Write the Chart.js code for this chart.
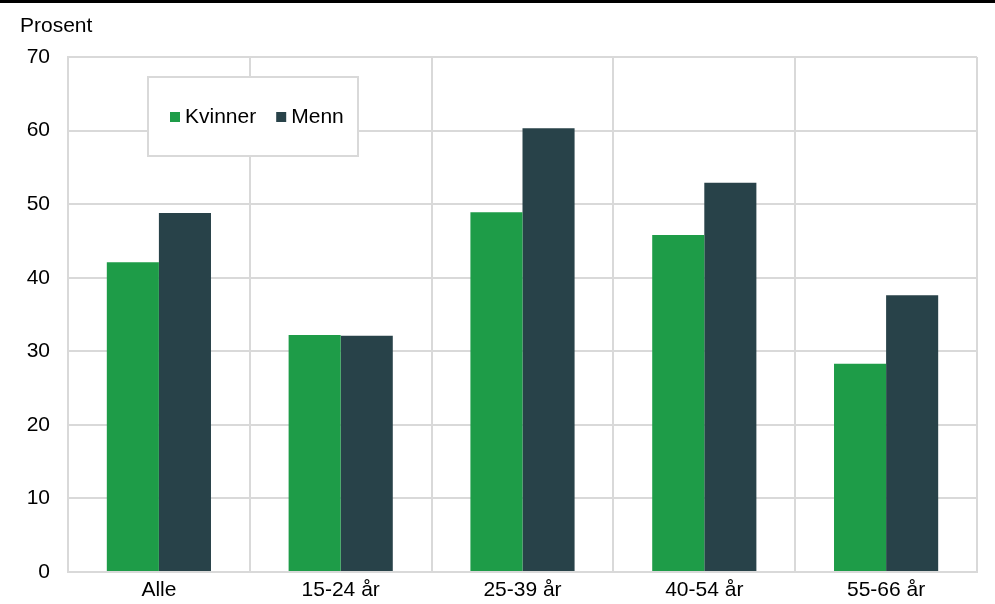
<!DOCTYPE html>
<html>
<head>
<meta charset="utf-8">
<script src="https://cdn.jsdelivr.net/npm/chart.js@4/dist/chart.umd.min.js"></script>
<style>
  html, body { margin: 0; padding: 0; background: #fff; }
  #wrap { position: relative; width: 995px; height: 604px; }
  #topline { position: absolute; left: 0; top: 0; width: 995px; height: 3px; background: #000; }
  #unit { position: absolute; left: 20px; top: 14px; font: 21px/21px "Liberation Sans", Arial, sans-serif; color: #000; }
</style>
</head>
<body>
<div id="wrap">
  <canvas id="chart" width="995" height="604"></canvas>
  <div id="topline"></div>
  <div id="unit">Prosent</div>
</div>
<script>
var categories = ["Alle", "15-24 år", "25-39 år", "40-54 år", "55-66 år"];
var kvinner = [42.1, 32.2, 48.9, 45.8, 28.3];
var menn = [48.8, 32.1, 60.3, 52.9, 37.6];
var seriesNames = ["Kvinner", "Menn"];
var seriesColors = ["#1e9c48", "#284249"];

var gridColor = "#d9d9d9";
var fontFamily = '"Liberation Sans", Arial, sans-serif';

// legend drawn as a framed box inside the plot area
var boxLegend = {
	id: "boxLegend",
	afterDatasetsDraw: function(chart){
		var ctx = chart.ctx;
		var area = chart.chartArea;
		var x = area.left + 80, y = area.top + 20, w = 210, h = 79;
		ctx.save();
		ctx.fillStyle = "#fff";
		ctx.fillRect(x, y, w, h);
		ctx.strokeStyle = gridColor;
		ctx.lineWidth = 2;
		ctx.strokeRect(x, y, w, h);
		ctx.font = "21px " + fontFamily;
		ctx.textBaseline = "middle";
		var px = x + 22;
		chart.data.datasets.forEach(function(ds){
			ctx.fillStyle = ds.backgroundColor;
			ctx.fillRect(px, y + 35, 10, 10);
			ctx.fillStyle = "#000";
			ctx.fillText(ds.label, px + 15, y + 40);
			px += 15 + ctx.measureText(ds.label).width + 20;
		});
		ctx.restore();
	}
};

new Chart(document.getElementById("chart").getContext("2d"), {
	type: "bar",
	data: {
		labels: categories,
		datasets: [
			{ label: seriesNames[0], data: kvinner, backgroundColor: seriesColors[0] },
			{ label: seriesNames[1], data: menn, backgroundColor: seriesColors[1] }
		]
	},
	options: {
		responsive: false,
		animation: false,
		layout: { padding: { left: 0, right: 18, top: 57, bottom: 0 } },
		datasets: { bar: { categoryPercentage: 0.573, barPercentage: 1.0 } },
		plugins: {
			legend: { display: false },
			tooltip: { enabled: false }
		},
		scales: {
			x: {
				grid: { color: gridColor, lineWidth: 2, drawTicks: false, offset: true },
				border: { color: gridColor, width: 2 },
				ticks: { color: "#000", font: { family: fontFamily, size: 21 }, padding: 6 },
				afterFit: function(scale){ scale.height = 32; }
			},
			y: {
				min: 0,
				max: 70,
				grid: { color: gridColor, lineWidth: 2, drawTicks: false },
				border: { color: gridColor, width: 2 },
				ticks: { stepSize: 10, color: "#000", font: { family: fontFamily, size: 21 }, padding: 18 },
				afterFit: function(scale){ scale.width = 68; }
			}
		}
	},
	plugins: [boxLegend]
});
</script>
</body>
</html>
